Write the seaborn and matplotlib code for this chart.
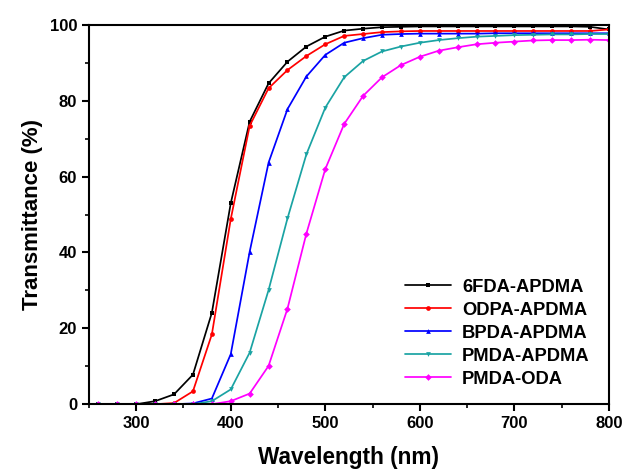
import numpy as np
import pandas as pd
import matplotlib
matplotlib.use("Agg")
import matplotlib.pyplot as plt
from matplotlib.ticker import MultipleLocator
import seaborn as sns

wavelength = list(range(260, 801, 20))

t_6fda_apdma = [0, 0, 0, 0.8, 2.6, 7.8, 24.1, 53.0, 74.5, 84.6, 90.3, 94.3, 96.9, 98.5,
                99.0, 99.4, 99.5, 99.6, 99.6, 99.6, 99.6, 99.6, 99.6, 99.6, 99.6, 99.6, 99.5, 98.8]
t_odpa_apdma = [0, 0, 0, 0, 0.3, 3.4, 18.4, 48.8, 73.4, 83.3, 88.1, 91.8, 94.9, 97.1,
                97.6, 98.1, 98.3, 98.4, 98.4, 98.4, 98.4, 98.4, 98.4, 98.4, 98.4, 98.4, 98.4, 98.8]
t_bpda_apdma = [0, 0, 0, 0, 0, 0.2, 1.5, 13.2, 40.2, 63.7, 77.8, 86.4, 92.1, 95.3,
                96.5, 97.4, 97.6, 97.7, 97.7, 97.7, 97.7, 97.8, 97.8, 97.8, 97.8, 97.8, 97.8, 97.8]
t_pmda_apdma = [0, 0, 0, 0, 0, 0, 0.8, 3.9, 13.6, 30.1, 49.0, 65.9, 78.2, 86.2,
                90.5, 93.0, 94.3, 95.3, 96.0, 96.5, 96.9, 97.1, 97.3, 97.4, 97.5, 97.5, 97.6, 97.6]
t_pmda_oda = [0, 0, 0, 0, 0, 0, 0, 0.8, 2.8, 10.1, 25.2, 45.0, 62.0, 73.9,
              81.3, 86.2, 89.4, 91.6, 93.2, 94.1, 94.9, 95.3, 95.6, 95.9, 96.0, 96.0, 96.1, 96.0]

series_names = ["6FDA-APDMA", "ODPA-APDMA", "BPDA-APDMA", "PMDA-APDMA", "PMDA-ODA"]
series_values = [t_6fda_apdma, t_odpa_apdma, t_bpda_apdma, t_pmda_apdma, t_pmda_oda]
colors = {"6FDA-APDMA": "#000000", "ODPA-APDMA": "#ff0000", "BPDA-APDMA": "#0000ff",
          "PMDA-APDMA": "#1aa3a3", "PMDA-ODA": "#ff00ff"}
markers = {"6FDA-APDMA": "s", "ODPA-APDMA": "o", "BPDA-APDMA": "^",
           "PMDA-APDMA": "v", "PMDA-ODA": "D"}

df = pd.concat([pd.DataFrame({"Wavelength": wavelength, "T": v, "Sample": n})
                for n, v in zip(series_names, series_values)], ignore_index=True)

sns.set_style("ticks")
plt.rcParams["font.family"] = ["Liberation Sans", "DejaVu Sans"]
plt.rcParams["font.weight"] = "bold"
plt.rcParams["text.color"] = "black"
plt.rcParams["axes.labelcolor"] = "black"
plt.rcParams["xtick.color"] = "black"
plt.rcParams["ytick.color"] = "black"
plt.rcParams["axes.edgecolor"] = "black"

fig = plt.figure(figsize=(6.22, 4.70), dpi=100)
ax = fig.add_axes([0.143, 0.140, 0.836, 0.807])

sns.lineplot(data=df, x="Wavelength", y="T", hue="Sample", style="Sample",
             hue_order=series_names, style_order=series_names,
             palette=colors, markers=markers, dashes=False,
             markersize=3.4, markeredgewidth=0, linewidth=1.25, ax=ax)

ax.set_xlim(250, 800)
ax.set_ylim(0, 100)
ax.xaxis.set_major_locator(MultipleLocator(100))
ax.xaxis.set_minor_locator(MultipleLocator(50))
ax.yaxis.set_major_locator(MultipleLocator(20))
ax.yaxis.set_minor_locator(MultipleLocator(10))
ax.tick_params(which="major", direction="out", length=5, width=1.5, labelsize=12,
               colors="black")
ax.tick_params(which="minor", direction="out", length=3, width=1.2, colors="black")
ax.set_xticks([300, 400, 500, 600, 700, 800])
for lbl in ax.get_xticklabels() + ax.get_yticklabels():
    lbl.set_fontweight("bold")
for s in ax.spines.values():
    s.set_linewidth(1.5)
    s.set_color("black")
    s.set_visible(True)

ax.set_xlabel("Wavelength (nm)", fontsize=16.3, fontweight="bold", labelpad=11)
ax.set_ylabel("Transmittance (%)", fontsize=16, fontweight="bold", labelpad=5)

leg = ax.legend(loc="lower right", frameon=False, fontsize=13.2,
                handlelength=2.5, handletextpad=0.6, labelspacing=0.33,
                borderaxespad=0.5, bbox_to_anchor=(0.995, 0.0))
for t in leg.get_texts():
    t.set_fontweight("bold")

fig.savefig("out.png", dpi=100)
